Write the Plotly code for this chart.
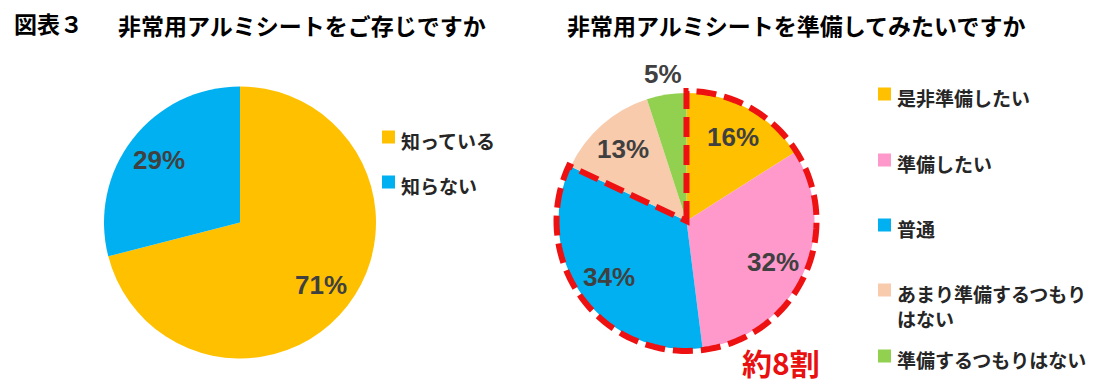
import math
import plotly.graph_objects as go

W, H = 1105, 390

# ---- data ----
left_title = "非常用アルミシートをご存じですか"
left_labels = ["知っている", "知らない"]
left_values = [71, 29]
left_colors = ["#FFC000", "#00B0F0"]

right_title = "非常用アルミシートを準備してみたいですか"
right_labels = ["是非準備したい", "準備したい", "普通", "あまり準備するつもり<br>はない", "準備するつもりはない"]
right_values = [16, 32, 34, 13, 5]
right_colors = ["#FFC000", "#FF99CC", "#00B0F0", "#F8CBAD", "#92D050"]
right_label_pos = ["inside", "inside", "inside", "inside", "outside"]
highlight_count = 3           # first three categories are outlined
highlight_text = "約8割"
fig_label = "図表３"

# ---- geometry (pixels) ----
L_C, L_R = (240, 222.5), 136
R_C, R_R = (686.5, 221), 128

JP = "Noto Sans CJK JP, Noto Sans, sans-serif"
NUM = "Liberation Sans, Arial, sans-serif"


def px(x):
    return x / W


def py(y):
    return 1 - y / H


def domain(c, r):
    return dict(x=[px(c[0] - r), px(c[0] + r)], y=[py(c[1] + r), py(c[1] - r)])


fig = go.Figure()
fig.add_trace(go.Pie(values=left_values, labels=left_labels, sort=False, direction="clockwise",
                     rotation=0, marker=dict(colors=left_colors, line=dict(width=0)),
                     textinfo="none", hoverinfo="label+percent", showlegend=False,
                     domain=domain(L_C, L_R)))
fig.add_trace(go.Pie(values=right_values, labels=right_labels, sort=False, direction="clockwise",
                     rotation=0, marker=dict(colors=right_colors, line=dict(width=0)),
                     textinfo="none", hoverinfo="label+percent", showlegend=False,
                     domain=domain(R_C, R_R)))

annotations = []


def pct_labels(values, c, r, positions):
    total = sum(values)
    cum = 0
    for i, v in enumerate(values):
        mid = (cum + v / 2) / total * 2 * math.pi
        cum += v
        f = 0.75 if positions[i] == "inside" else 1.16
        x = c[0] + math.sin(mid) * r * f
        y = c[1] - math.cos(mid) * r * f
        annotations.append(dict(x=px(x), y=py(y), xref="paper", yref="paper", showarrow=False,
                                text=f"{v}%", xanchor="center", yanchor="middle",
                                font=dict(family=NUM, size=26, color="#404040", weight=700)))


pct_labels(left_values, L_C, L_R, ["inside"] * len(left_values))
pct_labels(right_values, R_C, R_R, right_label_pos)

# titles
annotations.append(dict(x=px(12), y=py(23), xref="paper", yref="paper", showarrow=False, text=fig_label,
                        xanchor="left", yanchor="middle", font=dict(family=JP, size=23, color="#000", weight=700)))
annotations.append(dict(x=px(116), y=py(25), xref="paper", yref="paper", showarrow=False, text=left_title,
                        xanchor="left", yanchor="middle", font=dict(family=JP, size=23, color="#000", weight=700)))
annotations.append(dict(x=px(565), y=py(25), xref="paper", yref="paper", showarrow=False, text=right_title,
                        xanchor="left", yanchor="middle", font=dict(family=JP, size=23, color="#000", weight=700)))

shapes = []


def legend(labels, colors, x0, ys):
    for lab, col, y in zip(labels, colors, ys):
        shapes.append(dict(type="rect", xref="paper", yref="paper", x0=px(x0), x1=px(x0 + 13),
                           y0=py(y + 6.5), y1=py(y - 6.5), fillcolor=col, line=dict(width=0)))
        annotations.append(dict(x=px(x0 + 17), y=py(y - 12), xref="paper", yref="paper", showarrow=False,
                                text=lab, xanchor="left", yanchor="top", align="left",
                                font=dict(family=JP, size=19, color="#262626", weight=700)))


legend(left_labels, left_colors, 382, [137, 182])
legend(right_labels, right_colors, 878, [94, 160, 225, 290, 356])

# dashed highlight outline around the first categories
total = sum(right_values)
end_frac = sum(right_values[:highlight_count]) / total
ro = R_R + 2
n = 120
pts = [R_C]
for k in range(n + 1):
    a = end_frac * 2 * math.pi * k / n
    pts.append((R_C[0] + math.sin(a) * ro, R_C[1] - math.cos(a) * ro))
path = "M " + " L ".join(f"{px(x):.5f},{py(y):.5f}" for x, y in pts) + " Z"
shapes.append(dict(type="path", xref="paper", yref="paper", path=path, layer="above",
                   line=dict(color="#EE1111", width=6, dash="20px,8px")))

annotations.append(dict(x=px(781), y=py(362), xref="paper", yref="paper", showarrow=False, text=highlight_text,
                        xanchor="center", yanchor="middle", font=dict(family=JP, size=30, color="#E81010", weight=700)))

fig.update_layout(width=W, height=H, margin=dict(l=0, r=0, t=0, b=0), paper_bgcolor="white",
                  plot_bgcolor="white", annotations=annotations, shapes=shapes, showlegend=False)
fig.write_html("out.html", config={"displayModeBar": False},
               post_script="document.body.style.margin='0';document.body.style.overflow='hidden';")
